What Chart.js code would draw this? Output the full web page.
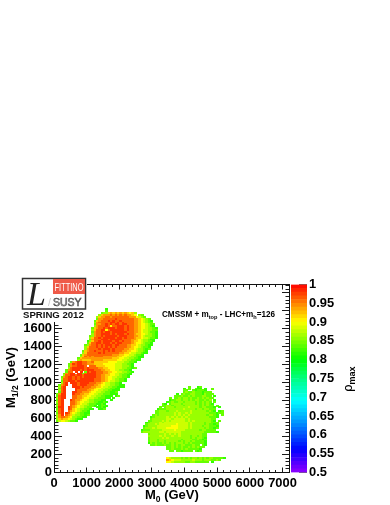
<!DOCTYPE html>
<html><head><meta charset="utf-8">
<style>html,body{margin:0;padding:0;background:#fff}#w{position:relative;width:390px;height:505px;overflow:hidden}canvas{position:absolute;left:0;top:0}</style>
<script src="https://cdn.jsdelivr.net/npm/chart.js@4"></script></head>
<body><div id="w"><canvas id="main" width="390" height="505"></canvas><canvas id="bar" width="390" height="505"></canvas></div>
<script>
const xTicks=[0,1000,2000,3000,4000,5000,6000,7000];
const yTicks=[0,200,400,600,800,1000,1200,1400,1600];
const rhoTicks=[0.5,0.55,0.6,0.65,0.7,0.75,0.8,0.85,0.9,0.95,1];
const rhoLevels=[0.80,0.82,0.84,0.86,0.88,0.90,0.92,0.94,0.96,0.98];
const binM0=72, binM12=21, xMax=7200, yMax=2094;
// [row index, first column, cell levels: digit = index in rhoLevels, dot = empty]
const upperRows=[
[86,22,"1"],[85,22,"2"],[84,20,"233676767676563"],[83,19,"3677787878787765"],[83,36,"32"],
[82,18,"367788788888887775432"],[81,18,"27788888988888887765432"],[80,17,"2678889898898888877654321"],
[79,17,"3788888998989888877654322"],[78,17,"27788989899899888776554322"],[77,17,"37888985889998988776554321"],
[76,16,"2678898999899989887765543321"],[75,16,"3688995899999989887765443322"],[74,16,"2788989989999998887765443221"],
[73,16,"3788999989899989887665543321"],[72,15,"23788989999989998887765433321"],[71,15,"36889899999899898887665443221"],
[70,15,"2788899989999988887765433211"],[69,14,"13688989999899898887665433221"],[68,14,"2688998999898998888765543221"],
[67,13,"23788989899989988877665433211"],[66,13,"3688898989898988887765543221"],[65,13,"3788889899989888877665433212"],
[64,12,"2678898889898988877665543321"],[63,12,"3688888989888888776654433211"],[62,11,"267888888888887776655443221"],
[61,11,"368787888877777766554433211"],[60,10,"267777777777777666554433221"],[59,10,"376666777776666665544332211"]];
const lowerRows=[
[58,7,"2789988778666666555544433221"],[57,6,"2798998877766665555544433221"],[56,6,"27889998.8886666555544433321"],
[55,6,"38999998988887766555444332212"],[54,5,"2789998989998887766554433221"],[53,5,"288.9.9.298998887766554433221"],
[52,4,"27899.99289999888776554433221"],[51,4,"3889989989999988776655443221"],[50,3,"27899898989999988776554433221"],
[49,3,"3889989899999988877655433221"],[48,3,"2889998999999988877654433221"],[47,3,"389.9998999988877654433221"],
[46,2,"2789..9989998887765544332211"],[45,2,"389...9998988877665443322111"],[44,2,"289....9988887765544332211"],
[43,2,"389....9888877655443322111"],[42,2,"289...9988777655443322112"],[41,1,"2799...9887766554433222111"],
[40,1,"2899...88776655443322111.12"],[39,1,"3899...8877655443322211.1"],[38,1,"289...987765543322211"],[38,24,"1"],
[37,1,"389...8876554433221121"],[36,1,"289...887654432221121"],[35,1,"389...87654433221.1221"],
[34,1,"299..9876544322..1121"],[33,1,"289..98654332211..112"],[32,1,"389..876543221"],[31,1,"289.9865432211"],
[30,1,"379.876433221"],[30,14,"2"],[29,1,"3788765332211"],[28,1,"36766543211"],[27,1,"245543221"]];
const farRows=[
[45,57,"2"],[45,61,"12"],[44,55,"1.2..211.1"],[44,67,"2"],[43,55,"22..212221."],[42,55,"232232221222"],
[41,52,"1.23223322213222"],[40,51,"2223223232223322.1"],[39,49,"2.22323323223232322"],[38,49,"122332332323322323.1"],
[37,48,"1232233233332323232.2"],[36,46,"21.2333323333323232321"],[35,46,"2233233332333333232322"],[35,69,"2"],
[34,45,"2.2333233333433332332221"],[34,70,"1"],[33,44,"1222333333343333233233222"],[32,43,"22333233343333343333332321.12"],
[31,43,"22333333434334343333333222122"],[30,42,"2323333334343434333333323321.2"],[29,41,"12333334343434343333333332221"],
[28,41,"2333333443444443433333333322"],[27,40,"22333343434444443434333333321"],[27,70,"2"],[26,39,"1233334344444444443433333233222"],
[25,39,"2333434444444544443433333232212"],[24,38,"12333344444455544443433332332221"],[23,38,"23334344445555544443433333232212"],
[22,37,"12223333344444544443333332332222"],[21,37,"233333334434444443333333333222221"],[20,40,"2333333434343433333333322"],
[19,40,"3333343433433433332332322"],[18,40,"2333334343333333332323321"],[17,40,"2333233333333323333223212"],
[16,40,"2333233233333232332322221"],[15,40,"1323223232323332323222221"],[14,41,"223222322323233222322"],[14,63,"21"],
[13,48,"2232323223232322"],[12,48,"223222323222221"],[11,49,"22.2212222.212"]];
const stripRows=[[7,48,"5433332323233232323322221"],[6,48,"76544433333433323332232"],[5,48,"554333332233222222.1"]];

const stops=[[0.5,[144,0,255]],[0.56,[0,0,255]],[0.63,[0,144,255]],[0.69,[0,255,255]],[0.75,[0,255,128]],[0.8,[0,255,0]],[0.9,[255,255,0]],[1,[255,0,0]]];
function colorFor(v){
  for(let k=1;k<stops.length;k++){if(v<=stops[k][0]){
    const a=stops[k-1],b=stops[k],t=(v-a[0])/(b[0]-a[0]);
    return 'rgb('+a[1].map((c,n)=>Math.round(c+(b[1][n]-c)*t)).join(',')+')';}}
  return 'rgb(255,0,0)';
}
const sprites=rhoLevels.map(v=>{const c=document.createElement('canvas');c.width=3;c.height=2;const g=c.getContext('2d');g.fillStyle=colorFor(v);g.fillRect(0,0,3,2);return c;});
const cells=[];
for(const [j,i0,s] of [...upperRows,...lowerRows,...farRows,...stripRows]){
  [...s].forEach((ch,n)=>{if(ch!=='.')cells.push({x:(i0+n+0.5)*binM0,y:(j+0.5)*binM12,l:+ch});});
}
const F='"Liberation Sans",Arimo,Helvetica,Arial,sans-serif';
const INK='#1a1a1a';
function axis(o){
  const horizontal=o.position==='bottom'||o.position==='top';
  const a={type:'linear',position:o.position,min:o.min,max:o.max,offset:false,weight:o.weight||0,
    afterFit:s=>{if(horizontal)s.height=o.size||0;else s.width=o.size||0;},
    border:{display:!!o.border,color:'#111',width:1},
    grid:{drawOnChartArea:false,drawTicks:true,tickLength:-o.len,tickColor:INK,tickWidth:1},
    ticks:Object.assign({stepSize:o.step,autoSkip:false,includeBounds:false,maxRotation:0,minRotation:0,display:false},o.ticks||{})};
  if(o.values)a.afterBuildTicks=s=>{s.ticks=o.values.map(v=>({value:v}));};
  return a;
}
const labelFont={family:F,size:12.9,weight:'bold'};
const overlay={id:'overlay',afterDraw(c){
  const g=c.ctx;g.save();
  // logo
  g.fillStyle='#fff';g.fillRect(19,270,68,52);
  g.strokeStyle='#333';g.lineWidth=1.5;g.strokeRect(22.5,278.5,63,30.5);
  g.fillStyle='#ef5a48';g.fillRect(53,279,32,15);
  g.textBaseline='alphabetic';g.textAlign='left';
  g.fillStyle='#fff';g.font='10.5px '+F;g.fillText('FITTINO',54.5,291,29);
  g.fillStyle='#222';g.font='italic 34px "Liberation Serif",serif';g.fillText('L',27,305);
  g.strokeStyle='#444';g.lineWidth=0.6;g.font='10.5px '+F;g.fillStyle='#ccc';
  g.fillText('/',48,306);g.fillText('SUSY',53,306,29);g.strokeText('SUSY',53,306,29);
  g.fillStyle='#111';g.font='bold 9.6px '+F;g.fillText('SPRING 2012',23,318,62);
  // annotation
  g.fillStyle='#000';let x=162;const y=316.5;
  const seg=(t,size,dy)=>{g.font='bold '+size+'px '+F;g.fillText(t,x,y+dy);x+=g.measureText(t).width;};
  seg('CMSSM + m',8.15,0);seg('top',5.6,2);seg(' - LHC+m',8.15,0);seg('h',5.6,2);seg('=126',8.15,0);
  // x title
  x=145;const yb=499;const y2=(t,size,dy)=>{g.font='bold '+size+'px '+F;g.fillText(t,x,yb+dy);x+=g.measureText(t).width;};
  y2('M',13,0);y2('0',8.5,3);y2(' (GeV)',13,0);
  // y title
  g.save();g.translate(15,408);g.rotate(-Math.PI/2);x=0;
  const y3=(t,size,dy)=>{g.font='bold '+size+'px '+F;g.fillText(t,x,dy);x+=g.measureText(t).width;};
  y3('M',13,0);y3('1/2',8.5,3);y3(' (GeV)',13,0);g.restore();
  // colour bar title
  g.save();g.translate(352,392);g.rotate(-Math.PI/2);x=0;
  g.font='12px "DejaVu Sans",sans-serif';g.fillText('\u03C1',x,0);x+=g.measureText('\u03C1').width;
  g.font='bold 9px '+F;g.fillText('max',x,2.5);g.restore();
  g.restore();
}};
new Chart(document.getElementById('main'),{
  type:'scatter',
  data:{datasets:[{data:cells,pointStyle:ctx=>sprites[ctx.raw?ctx.raw.l:0],pointRadius:2,pointHoverRadius:2,borderWidth:0,backgroundColor:'#000'}]},
  options:{responsive:false,animation:false,events:[],
    layout:{autoPadding:false,padding:{left:0,right:101,top:284.5,bottom:0}},
    plugins:{legend:{display:false},tooltip:{enabled:false}},
    scales:{
      x:axis({position:'bottom',min:0,max:xMax,step:1000,values:xTicks,len:5,border:true,size:32.5,weight:10,ticks:{display:true,font:labelFont,color:'#000',padding:8,callback:v=>String(v)}}),
      y:axis({position:'left',min:0,max:yMax,step:200,len:8,border:true,size:54,weight:10,ticks:{display:true,font:labelFont,color:'#000',padding:10,callback:v=>yTicks.includes(v)?String(v):''}}),
      xm:axis({position:'bottom',min:0,max:xMax,step:200,len:2.5}),
      ym:axis({position:'left',min:0,max:yMax,step:40,len:4.5}),
      xt:axis({position:'top',min:0,max:xMax,step:1000,values:xTicks,len:5,border:true}),
      xtm:axis({position:'top',min:0,max:xMax,step:200,len:2.5}),
      yr:axis({position:'right',min:0,max:yMax,step:200,len:7,border:true}),
      yrm:axis({position:'right',min:0,max:yMax,step:40,len:3.5})
    }},
  plugins:[overlay]
});
const bandCount=50;
const bands=[];for(let k=0;k<bandCount;k++)bands.push(k);
new Chart(document.getElementById('bar'),{
  type:'bar',
  data:{labels:[''],datasets:bands.map(k=>({
    data:[[0.5+k*0.01,0.5+(k+1)*0.01]],backgroundColor:colorFor(0.5+(k+0.5)*0.01),borderWidth:0,
    barPercentage:1,categoryPercentage:1,grouped:false}))},
  options:{responsive:false,animation:false,events:[],
    layout:{autoPadding:false,padding:{left:291,right:0,top:284.5,bottom:32.5}},
    plugins:{legend:{display:false},tooltip:{enabled:false}},
    scales:{
      x:{display:false,grid:{display:false},afterFit:s=>{s.height=0;}},
      y:{type:'linear',position:'right',min:0.5,max:1,afterFit:s=>{s.width=83;},
        border:{display:false},
        grid:{drawOnChartArea:false,drawTicks:true,tickLength:-8,tickColor:'rgba(0,0,0,0.55)',tickWidth:1},
        ticks:{stepSize:0.05,autoSkip:false,font:labelFont,color:'#000',padding:10,
          callback:v=>{const t=+v.toFixed(2);return rhoTicks.includes(t)?String(t):'';}}}
    }}
});
</script></body></html>
